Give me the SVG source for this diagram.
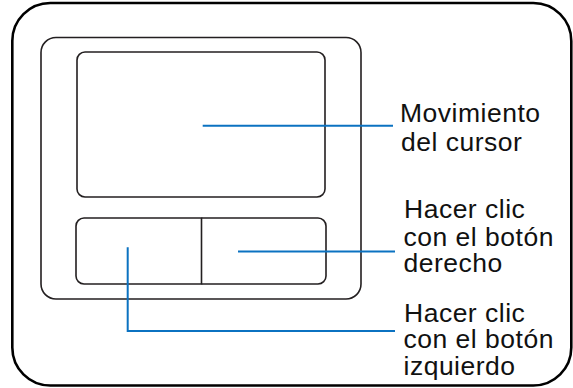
<svg xmlns="http://www.w3.org/2000/svg" width="573" height="388" viewBox="0 0 573 388">
<style>
.frame{fill:none;stroke:#000;stroke-width:2.6}
.pad{fill:none;stroke:#231f20;stroke-width:1.6}
.lead{fill:none;stroke:#0b72c1;stroke-width:2}
.lbl{font-family:"Liberation Sans",Arial,sans-serif;font-size:26.5px;letter-spacing:0.5px;fill:#111}
</style>
<rect width="573" height="388" fill="#fff"/>
<g id="case"><rect class="frame" x="12.3" y="3" width="559" height="382.5" rx="38" ry="38"/></g>
<g id="touchpad"><rect class="pad" x="41" y="37.5" width="320" height="261.5" rx="15" ry="15"/></g>
<g id="surface"><rect class="pad" x="77" y="52" width="248" height="145" rx="8" ry="8"/></g>
<g id="left-button"><path class="pad" d="M201.5,218 H84 a8,8 0 0 0 -8,8 V276 a8,8 0 0 0 8,8 H201.5 Z"/></g>
<g id="right-button"><path class="pad" d="M201.5,218 H318 a8,8 0 0 1 8,8 V276 a8,8 0 0 1 -8,8 H201.5"/></g>
<g id="connectors">
<path class="lead" d="M202.7,125.7 H393"/>
<path class="lead" d="M238,251.5 H395"/>
<path class="lead" d="M127.7,247.3 V331 H395"/>
</g>
<g id="label-cursor">
<text class="lbl" x="400" y="122.3">Movimiento</text>
<text class="lbl" x="401" y="151">del cursor</text>
</g>
<g id="label-right">
<text class="lbl" x="404" y="218.3">Hacer clic</text>
<text class="lbl" x="403.5" y="245.5">con el botón</text>
<text class="lbl" x="403.5" y="272.3">derecho</text>
</g>
<g id="label-left">
<text class="lbl" x="404" y="321.7">Hacer clic</text>
<text class="lbl" x="403.5" y="348.3">con el botón</text>
<text class="lbl" x="403.5" y="375">izquierdo</text>
</g>
</svg>
